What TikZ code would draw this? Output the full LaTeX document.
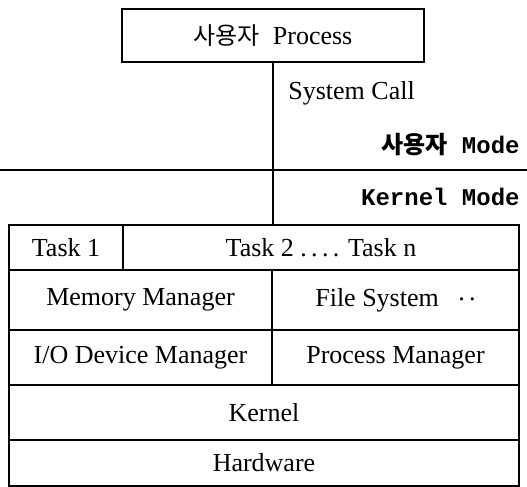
\documentclass[tikz,border=0pt]{standalone}
\usepackage{fontspec}
\setmainfont{Liberation Serif}
\setmonofont{Liberation Mono}
\newfontfamily\krfont{Noto Sans CJK KR}
\usetikzlibrary{positioning}

\begin{document}
\begin{tikzpicture}[
x=0.5pt,y=-0.5pt,
cell/.style={draw,line width=0.6pt,inner sep=0pt,align=center,font=\fontsize{13}{15}\selectfont},
note/.style={inner sep=0pt,font=\fontsize{13}{15}\selectfont},
modelabel/.style={inner sep=0pt,font=\fontsize{12}{14}\selectfont\ttfamily\bfseries},
link/.style={line width=0.6pt}]
\useasboundingbox (0,0) rectangle (527,487);
\node[cell,minimum width=151pt,minimum height=26.5pt] (proc) at (273,35.5) {{\krfont\fontsize{12}{14}\selectfont 사용자}\ \ Process};
\node[note,anchor=west] (call) at (288,93) {System Call};
\node[modelabel,anchor=east] (umode) at (520,145) {{\krfont\bfseries 사용자} Mode};
\node[modelabel,anchor=east] (kmode) at (520,197) {Kernel Mode};
\coordinate (ml) at (0,170);
\coordinate (mr) at (527,170);
\node[cell,minimum width=57pt,minimum height=22.5pt] (task1) at (66,247.5) {Task 1};
\node[cell,minimum width=198pt,minimum height=22.5pt] (taskn) at (321,247.5) {Task 2 .\,.\,.\,. Task n};
\node[cell,minimum width=131.5pt,minimum height=30pt] (mem) at (140.5,300) {Memory Manager};
\node[cell,minimum width=123.5pt,minimum height=30pt] (fs) at (395.5,300) {File System~~~\raisebox{0.5ex}{.\,.}};
\node[cell,minimum width=131.5pt,minimum height=27.5pt] (io) at (140.5,357.5) {I/O Device Manager};
\node[cell,minimum width=123.5pt,minimum height=27.5pt] (pm) at (395.5,357.5) {Process Manager};
\node[cell,minimum width=255pt,minimum height=27.5pt] (kern) at (264,412.5) {Kernel};
\node[cell,minimum width=255pt,minimum height=23pt] (hw) at (264,463) {Hardware};
\draw[link] (ml)--(mr);
\draw[link] (proc.south) -- (proc.south |- taskn.north);
\end{tikzpicture}
\end{document}
